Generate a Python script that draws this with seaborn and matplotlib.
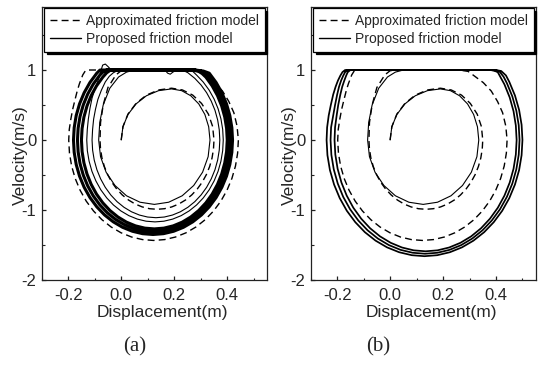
import matplotlib
matplotlib.use("Agg")
import matplotlib.pyplot as plt
from matplotlib.ticker import MultipleLocator, FixedLocator, FuncFormatter
import pandas as pd
import seaborn as sns

# ---------------- data: (displacement m, velocity m/s) ----------------
# approximated friction model (dashed) - identical in both panels
approx = [
    (0.0, 0.0), (0.0065, 0.19), (0.0255, 0.37), (0.056, 0.523), (0.095, 0.641),
    (0.141, 0.715), (0.19, 0.74), (0.231, 0.715), (0.27, 0.641), (0.303, 0.523),
    (0.329, 0.37), (0.345, 0.192), (0.35, 0.0),
    (0.3481, -0.1292), (0.3427, -0.2562), (0.3336, -0.3789), (0.3212, -0.495), (0.3056, -0.6027),
    (0.287, -0.70), (0.2659, -0.7855), (0.2425, -0.8573), (0.2173, -0.9147), (0.1906, -0.9562),
    (0.1631, -0.9815), (0.135, -0.99), (0.1069, -0.9815), (0.0794, -0.9562), (0.0527, -0.9147),
    (0.0275, -0.8573), (0.0041, -0.7855), (-0.017, -0.70), (-0.0356, -0.6027), (-0.0512, -0.495),
    (-0.0636, -0.3789), (-0.0727, -0.2562), (-0.0781, -0.1292), (-0.08, 0.0),
    (-0.078, 0.25), (-0.068, 0.5), (-0.05, 0.75), (-0.02, 0.93), (0.0, 0.99), (0.02, 1.0),
    (0.26, 1.0), (0.295, 0.98), (0.32, 0.91), (0.352, 0.82), (0.382, 0.7), (0.406, 0.55),
    (0.425, 0.39), (0.437, 0.2), (0.442, 0.0),
    (0.4392, -0.1873), (0.4311, -0.3714), (0.4176, -0.5492), (0.3991, -0.7175), (0.3759, -0.8736),
    (0.3483, -1.0147), (0.3168, -1.1385), (0.282, -1.2427), (0.2445, -1.3258), (0.2048, -1.3861),
    (0.1638, -1.4227), (0.122, -1.435), (0.0802, -1.4227), (0.0392, -1.3861), (-0.0005, -1.3258),
    (-0.038, -1.2427), (-0.0728, -1.1385), (-0.1043, -1.0147), (-0.1319, -0.8736), (-0.1551, -0.7175),
    (-0.1736, -0.5492), (-0.1871, -0.3714), (-0.1952, -0.1873), (-0.198, 0.0),
    (-0.196, 0.15), (-0.19, 0.3), (-0.183, 0.44), (-0.174, 0.58), (-0.166, 0.7), (-0.158, 0.8),
    (-0.145, 0.93), (-0.135, 0.99), (-0.125, 1.0), (0.26, 1.0),
]

# proposed friction model (solid): first spiral from rest, same in both panels
proposed_start = [
    (0.0, 0.0), (0.0065, 0.189), (0.0255, 0.365), (0.056, 0.516), (0.095, 0.632),
    (0.141, 0.705), (0.19, 0.73), (0.228, 0.705), (0.2625, 0.632), (0.2925, 0.516),
    (0.3156, 0.365), (0.33, 0.189), (0.335, 0.0), (0.328, -0.238), (0.307, -0.46),
    (0.2735, -0.65), (0.23, -0.797), (0.179, -0.889), (0.125, -0.92), (0.071, -0.889),
    (0.02, -0.797), (-0.0235, -0.65), (-0.057, -0.46), (-0.078, -0.238), (-0.085, 0.0),
    (-0.081, 0.25), (-0.068, 0.5), (-0.043, 0.74), (-0.01, 0.9), (0.02, 0.97),
    (0.045, 0.995), (0.07, 1.0),
]

# panel (a): further transient loops
a_proposed_rest = [
    (0.07, 1.0), (0.165, 1.0), (0.175, 0.955), (0.185, 0.94), (0.195, 0.97), (0.205, 0.99),
    (0.236, 0.99), (0.2515, 0.961), (0.2777, 0.8807), (0.3014, 0.7849), (0.3222, 0.6758),
    (0.3397, 0.555), (0.3537, 0.4248), (0.3638, 0.2873), (0.3699, 0.1449), (0.372, 0.0),
    (0.3699, -0.1449), (0.3638, -0.2873), (0.3537, -0.4248), (0.3397, -0.555), (0.3222, -0.6758),
    (0.3014, -0.7849), (0.2777, -0.8807), (0.2515, -0.9613), (0.2232, -1.0255), (0.1934, -1.0721),
    (0.1625, -1.1005), (0.131, -1.11), (0.0995, -1.1005), (0.0686, -1.0721), (0.0388, -1.0255),
    (0.0105, -0.9613), (-0.0157, -0.8807), (-0.0394, -0.7849), (-0.0602, -0.6758), (-0.0777, -0.555),
    (-0.0917, -0.4248), (-0.1018, -0.2873), (-0.1079, -0.1449), (-0.11, 0.0),
    (-0.108, 0.15), (-0.104, 0.3), (-0.097, 0.44), (-0.088, 0.58), (-0.075, 0.71), (-0.06, 0.83),
    (-0.045, 0.91), (-0.03, 0.96), (-0.015, 0.99), (0.0, 1.0),
    (0.24, 1.0), (0.27, 0.98), (0.2843, 0.9283), (0.3096, 0.8273), (0.3318, 0.7123), (0.3505, 0.585),
    (0.3654, 0.4478), (0.3762, 0.3028), (0.3828, 0.1527), (0.385, 0.0),
    (0.3828, -0.1527), (0.3762, -0.3028), (0.3654, -0.4478), (0.3505, -0.585), (0.3318, -0.7123),
    (0.3096, -0.8273), (0.2843, -0.9283), (0.2563, -1.0132), (0.226, -1.081), (0.1941, -1.1301),
    (0.1611, -1.16), (0.1275, -1.17), (0.0939, -1.16), (0.0609, -1.1301), (0.029, -1.081),
    (-0.0013, -1.0132), (-0.0293, -0.9283), (-0.0546, -0.8273), (-0.0768, -0.7123), (-0.0955, -0.585),
    (-0.1104, -0.4478), (-0.1212, -0.3028), (-0.1278, -0.1527), (-0.13, 0.0),
    (-0.128, 0.15), (-0.124, 0.3), (-0.118, 0.45), (-0.11, 0.6), (-0.1, 0.72), (-0.09, 0.82),
    (-0.083, 0.9), (-0.078, 0.97), (-0.07, 1.07), (-0.06, 1.085), (-0.05, 1.05),
    (-0.04, 1.01), (-0.03, 1.0),
]

# panel (a): converged stick-slip cycle (several nearly coincident loops)
a_proposed_cycle = [
    (-0.03, 1.0), (0.26, 1.0), (0.29, 0.985), (0.305, 0.95), (0.3195, 0.898), (0.3432, 0.7732),
    (0.3632, 0.635), (0.3791, 0.486), (0.3906, 0.3287), (0.3976, 0.1657), (0.40, 0.0),
    (0.3976, -0.1657), (0.3906, -0.3287), (0.3791, -0.486), (0.3632, -0.635), (0.3432, -0.7732),
    (0.3195, -0.898), (0.2924, -1.0076), (0.2625, -1.0998), (0.2302, -1.1734), (0.1962, -1.2267),
    (0.1609, -1.2591), (0.125, -1.27), (0.0891, -1.2591), (0.0538, -1.2267), (0.0198, -1.1734),
    (-0.0125, -1.0998), (-0.0424, -1.0076), (-0.0695, -0.898), (-0.0932, -0.7732), (-0.1132, -0.635),
    (-0.1291, -0.486), (-0.1406, -0.3287), (-0.1476, -0.1657), (-0.15, 0.0),
    (-0.1476, 0.1657), (-0.1406, 0.3287), (-0.1291, 0.486), (-0.1132, 0.635), (-0.0932, 0.7732),
    (-0.0695, 0.898), (-0.055, 0.96), (-0.04, 1.0),
    (0.27, 1.0), (0.30, 0.985), (0.315, 0.96), (0.3258, 0.9263), (0.3506, 0.7975), (0.3715, 0.655),
    (0.3881, 0.5013), (0.4002, 0.339), (0.4075, 0.171), (0.41, 0.0),
    (0.4075, -0.171), (0.4002, -0.339), (0.3881, -0.5013), (0.3715, -0.655), (0.3506, -0.7975),
    (0.3258, -0.9263), (0.2975, -1.0394), (0.2663, -1.1345), (0.2325, -1.2103), (0.1969, -1.2653),
    (0.16, -1.2987), (0.1225, -1.31), (0.085, -1.2987), (0.0481, -1.2653), (0.0125, -1.2103),
    (-0.0213, -1.1345), (-0.0525, -1.0394), (-0.0808, -0.9263), (-0.1056, -0.7975), (-0.1265, -0.655),
    (-0.1431, -0.5013), (-0.1552, -0.339), (-0.1625, -0.171), (-0.165, 0.0),
    (-0.1625, 0.171), (-0.1552, 0.339), (-0.1431, 0.5013), (-0.1265, 0.655), (-0.1056, 0.7975),
    (-0.0808, 0.9263), (-0.068, 0.975), (-0.055, 1.0),
    (0.28, 1.0), (0.31, 0.985), (0.3321, 0.9546), (0.358, 0.8219), (0.3798, 0.675), (0.3972, 0.5166),
    (0.4098, 0.3494), (0.4174, 0.1762), (0.42, 0.0),
    (0.4174, -0.1762), (0.4098, -0.3494), (0.3972, -0.5166), (0.3798, -0.675), (0.358, -0.8219),
    (0.3321, -0.9546), (0.3026, -1.0711), (0.27, -1.1691), (0.2348, -1.2473), (0.1976, -1.304),
    (0.1592, -1.3384), (0.12, -1.35), (0.0808, -1.3384), (0.0424, -1.304), (0.0052, -1.2473),
    (-0.03, -1.1691), (-0.0626, -1.0711), (-0.0921, -0.9546), (-0.118, -0.8219), (-0.1398, -0.675),
    (-0.1572, -0.5166), (-0.1698, -0.3494), (-0.1774, -0.1762), (-0.18, 0.0),
    (-0.1774, 0.1762), (-0.1698, 0.3494), (-0.1572, 0.5166), (-0.1398, 0.675), (-0.118, 0.8219),
    (-0.0921, 0.9546), (-0.08, 1.0), (0.28, 1.0),
]

# panel (b): loops after the first spiral
b_proposed_cycle = [
    (0.07, 1.0), (0.38, 1.0), (0.397, 0.985), (0.4069, 0.968), (0.4319, 0.795), (0.4518, 0.6085),
    (0.4663, 0.4115), (0.475, 0.2075), (0.478, 0.0),
    (0.475, -0.2075), (0.4663, -0.4115), (0.4518, -0.6085), (0.4319, -0.795), (0.4069, -0.968),
    (0.3772, -1.1243), (0.3434, -1.2615), (0.306, -1.377), (0.2656, -1.469), (0.223, -1.5358),
    (0.1789, -1.5763), (0.134, -1.59), (0.0891, -1.5763), (0.045, -1.5358), (0.0024, -1.469),
    (-0.038, -1.377), (-0.0754, -1.2615), (-0.1092, -1.1243), (-0.1389, -0.968), (-0.1639, -0.795),
    (-0.1838, -0.6085), (-0.1983, -0.4115), (-0.207, -0.2075), (-0.21, 0.0),
    (-0.208, 0.18), (-0.202, 0.35), (-0.196, 0.5), (-0.188, 0.65), (-0.181, 0.76), (-0.173, 0.85),
    (-0.166, 0.92), (-0.16, 0.97), (-0.15, 1.0),
    (0.39, 1.0), (0.412, 0.985), (0.4289, 0.9028), (0.4412, 0.8125), (0.4618, 0.6219),
    (0.4768, 0.4206), (0.4859, 0.2121), (0.489, 0.0),
    (0.4859, -0.2121), (0.4768, -0.4206), (0.4618, -0.6219), (0.4412, -0.8125), (0.4152, -0.9893),
    (0.3844, -1.149), (0.3493, -1.2893), (0.3105, -1.4073), (0.2686, -1.5013), (0.2244, -1.5696),
    (0.1786, -1.611), (0.132, -1.625), (0.0854, -1.611), (0.0396, -1.5696), (-0.0046, -1.5013),
    (-0.0465, -1.4073), (-0.0853, -1.2893), (-0.1204, -1.149), (-0.1512, -0.9893), (-0.1772, -0.8125),
    (-0.1978, -0.6219), (-0.2128, -0.4206), (-0.2219, -0.2121), (-0.225, 0.0),
    (-0.223, 0.18), (-0.215, 0.35), (-0.208, 0.5), (-0.2, 0.65), (-0.193, 0.76), (-0.185, 0.85),
    (-0.177, 0.92), (-0.17, 0.97), (-0.16, 1.0),
    (0.40, 1.0), (0.42, 0.985), (0.4377, 0.9223), (0.4504, 0.83), (0.4718, 0.6353),
    (0.4874, 0.4296), (0.4968, 0.2166), (0.50, 0.0),
    (0.4968, -0.2166), (0.4874, -0.4296), (0.4718, -0.6353), (0.4504, -0.83), (0.4236, -1.0106),
    (0.3916, -1.1738), (0.3553, -1.317), (0.315, -1.4376), (0.2716, -1.5337), (0.2258, -1.6034),
    (0.1783, -1.6457), (0.13, -1.66), (0.0817, -1.6457), (0.0342, -1.6034), (-0.0116, -1.5337),
    (-0.055, -1.4376), (-0.0953, -1.317), (-0.1316, -1.1738), (-0.1636, -1.0106), (-0.1904, -0.83),
    (-0.2118, -0.6353), (-0.2274, -0.4296), (-0.2368, -0.2166), (-0.24, 0.0),
    (-0.238, 0.18), (-0.232, 0.35), (-0.224, 0.5), (-0.215, 0.65), (-0.206, 0.76), (-0.197, 0.85),
    (-0.188, 0.92), (-0.18, 0.97), (-0.17, 1.0), (0.40, 1.0),
]

x_major = [-0.2, 0.0, 0.2, 0.4]
y_major = [-2, -1, 0, 1]
legend_labels = ["Approximated friction model", "Proposed friction model"]
panel_labels = ["(a)", "(b)"]

# ---------------- styling ----------------
sns.set_style("ticks")
plt.rcParams.update({
    "font.family": ["Liberation Sans", "DejaVu Sans"],
    "axes.unicode_minus": False,
    "xtick.direction": "in",
    "ytick.direction": "in",
    "axes.edgecolor": "#222222",
    "axes.linewidth": 0.9,
})

fig = plt.figure(figsize=(5.45, 3.71), dpi=100)
ax_a = fig.add_axes([0.0765, 0.2453, 0.4134, 0.7358])
ax_b = fig.add_axes([0.5701, 0.2453, 0.4128, 0.7358])


def draw(ax, pts, **kw):
    df = pd.DataFrame(pts, columns=["Displacement", "Velocity"])
    sns.lineplot(data=df, x="Displacement", y="Velocity", sort=False,
                 estimator=None, ax=ax, color="black", legend=False, **kw)


dash = (0, (5, 3))
panels = [
    (ax_a, [a_proposed_rest], a_proposed_cycle, 2.2),
    (ax_b, [], b_proposed_cycle, 1.25),
]

for (ax, rest_list, cycle, cyc_lw), plabel in zip(panels, panel_labels):
    draw(ax, approx, linestyle=dash, lw=1.0)
    draw(ax, proposed_start, lw=0.8)
    for rest in rest_list:
        draw(ax, rest, lw=0.8)
    draw(ax, cycle, lw=cyc_lw)

    ax.set_xlim(-0.3, 0.55)
    ax.set_ylim(-2.0, 1.9)
    ax.xaxis.set_major_locator(FixedLocator(x_major))
    ax.yaxis.set_major_locator(FixedLocator(y_major))
    ax.xaxis.set_minor_locator(MultipleLocator(0.1))
    ax.yaxis.set_minor_locator(MultipleLocator(0.5))
    ax.xaxis.set_major_formatter(FuncFormatter(lambda v, p: f"{v:.1f}"))
    ax.yaxis.set_major_formatter(FuncFormatter(lambda v, p: f"{v:.0f}"))
    ax.tick_params(which="major", length=3.2, width=0.9, labelsize=12, color="#222222")
    ax.tick_params(which="minor", length=1.8, width=0.8, color="#222222")
    ax.tick_params(axis="x", pad=6)
    ax.tick_params(axis="y", pad=4)
    for s in ax.spines.values():
        s.set_visible(True)
    ax.set_xlabel("Displacement(m)", fontsize=12.5)
    ax.set_ylabel("Velocity(m/s)", fontsize=12.5)
    ax.xaxis.set_label_coords(0.535, -0.09)
    ax.yaxis.set_label_coords(-0.062, 0.458)

    lines = ax.get_lines()
    leg = ax.legend([lines[0], lines[1]], legend_labels, loc="upper left",
                    bbox_to_anchor=(0.012, 0.995), borderaxespad=0, frameon=True,
                    fancybox=False, edgecolor="black", framealpha=1,
                    shadow={"color": "black", "alpha": 1}, fontsize=10,
                    handlelength=2.2, handletextpad=0.4, borderpad=0.4,
                    labelspacing=0.3)
    leg.get_frame().set_linewidth(0.9)
    for h in leg.legend_handles:
        h.set_linewidth(1.0)

fig.text(135 / 545, 1 - 347 / 371, panel_labels[0], ha="center", va="center",
         fontsize=15, family=["Liberation Serif", "DejaVu Serif"])
fig.text(378 / 545, 1 - 347 / 371, panel_labels[1], ha="center", va="center",
         fontsize=15, family=["Liberation Serif", "DejaVu Serif"])

fig.savefig("out.png", dpi=100)
